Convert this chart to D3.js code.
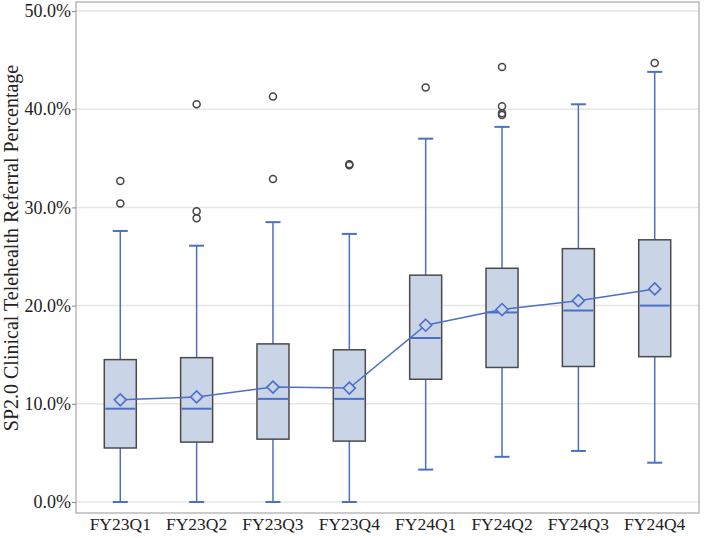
<!DOCTYPE html>
<html>
<head>
<meta charset="utf-8">
<script src="https://cdn.jsdelivr.net/npm/d3@7"></script>
<style>
  body { margin: 0; background: #fff; }
  svg text { font-family: "Liberation Serif", "Times New Roman", serif; fill: #222; }
</style>
</head>
<body>
<div id="chart"></div>
<script>
// quarters and box statistics (percent)
const quarters = ["FY23Q1", "FY23Q2", "FY23Q3", "FY23Q4", "FY24Q1", "FY24Q2", "FY24Q3", "FY24Q4"];
const whiskerLow  = [0, 0, 0, 0, 3.3, 4.6, 5.2, 4.0];
const q1Values    = [5.5, 6.1, 6.4, 6.2, 12.5, 13.7, 13.8, 14.8];
const medians     = [9.5, 9.5, 10.5, 10.5, 16.7, 19.3, 19.5, 20.0];
const q3Values    = [14.5, 14.7, 16.1, 15.5, 23.1, 23.8, 25.8, 26.7];
const whiskerHigh = [27.6, 26.1, 28.5, 27.3, 37.0, 38.2, 40.5, 43.8];
const means       = [10.4, 10.7, 11.7, 11.6, 18.0, 19.6, 20.5, 21.7];
const outliers    = [
    [32.7, 30.4],
    [40.5, 29.6, 28.9],
    [41.3, 32.9],
    [34.3, 34.4],
    [42.2],
    [44.3, 40.3, 39.6, 39.4],
    [],
    [44.7]
];
const yTicks = [0, 10, 20, 30, 40, 50];

const W = 704, H = 538;
const plot = {left: 76, right: 699, top: 2, bottom: 513};

const svg = d3.select("#chart").append("svg")
    .attr("width", W).attr("height", H);

const x = d3.scalePoint().domain(quarters).range([plot.left, plot.right]).padding(0.58);
const y = d3.scaleLinear().domain([0, 50]).range([502, 11]);

const blue = "#4a70c8";
const boxW = 32, capW = 15;

// gridlines
svg.append("g").selectAll("line")
    .data(yTicks)
    .join("line")
    .attr("x1", plot.left).attr("x2", plot.right)
    .attr("y1", d => y(d)).attr("y2", d => y(d))
    .attr("stroke", "#e6e6e6").attr("stroke-width", 1.5);

// frame
svg.append("rect")
    .attr("x", plot.left).attr("y", plot.top)
    .attr("width", plot.right - plot.left).attr("height", plot.bottom - plot.top)
    .attr("fill", "none").attr("stroke", "#a8a8a8").attr("stroke-width", 1.2);

// y axis
const yAxis = svg.append("g")
    .attr("transform", `translate(${plot.left},0)`)
    .call(d3.axisLeft(y).tickValues(yTicks).tickSize(4).tickFormat(d => d.toFixed(1) + "%"));
yAxis.select(".domain").remove();
yAxis.selectAll(".tick line").attr("stroke", "#888");
yAxis.selectAll(".tick text").attr("x", -5).style("font-size", "18px").attr("fill", "#222");

// x labels
svg.append("g").selectAll("text")
    .data(quarters)
    .join("text")
    .attr("x", d => x(d))
    .attr("y", 530)
    .attr("text-anchor", "middle")
    .style("font-size", "17.5px")
    .text(d => d);

// y title
svg.append("text")
    .attr("transform", "translate(18,248) rotate(-90)")
    .attr("text-anchor", "middle")
    .style("font-size", "20px")
    .text("SP2.0 Clinical Telehealth Referral Percentage");

const boxes = svg.append("g");
quarters.forEach((q, i) => {
    const cx = x(q);
    const g = boxes.append("g");
    // whiskers
    g.append("line")
        .attr("x1", cx).attr("x2", cx)
        .attr("y1", y(whiskerHigh[i])).attr("y2", y(q3Values[i]))
        .attr("stroke", blue).attr("stroke-width", 1.5);
    g.append("line")
        .attr("x1", cx).attr("x2", cx)
        .attr("y1", y(q1Values[i])).attr("y2", y(whiskerLow[i]))
        .attr("stroke", blue).attr("stroke-width", 1.5);
    [whiskerHigh[i], whiskerLow[i]].forEach(v => {
        g.append("line")
            .attr("x1", cx - capW / 2).attr("x2", cx + capW / 2)
            .attr("y1", y(v)).attr("y2", y(v))
            .attr("stroke", blue).attr("stroke-width", 2);
    });
    // box
    g.append("rect")
        .attr("x", cx - boxW / 2).attr("y", y(q3Values[i]))
        .attr("width", boxW).attr("height", y(q1Values[i]) - y(q3Values[i]))
        .attr("fill", "#c9d5e6").attr("stroke", "#4a4a4a").attr("stroke-width", 1.5);
    // median
    g.append("line")
        .attr("x1", cx - boxW / 2 + 1).attr("x2", cx + boxW / 2 - 1)
        .attr("y1", y(medians[i])).attr("y2", y(medians[i]))
        .attr("stroke", blue).attr("stroke-width", 2);
    // outliers
    g.selectAll("circle")
        .data(outliers[i])
        .join("circle")
        .attr("cx", cx).attr("cy", d => y(d))
        .attr("r", 3.5)
        .attr("fill", "none").attr("stroke", "#444").attr("stroke-width", 1.5);
});

// mean line
const meanLine = d3.line().x((d, i) => x(quarters[i])).y(d => y(d));
svg.append("path")
    .datum(means)
    .attr("d", meanLine)
    .attr("fill", "none").attr("stroke", blue).attr("stroke-width", 1.5);

svg.append("g").selectAll("path")
    .data(means)
    .join("path")
    .attr("transform", (d, i) => `translate(${x(quarters[i])},${y(d)})`)
    .attr("d", "M0,-6L6,0L0,6L-6,0Z")
    .attr("fill", "#c9d5e6").attr("stroke", blue).attr("stroke-width", 1.6);
</script>
</body>
</html>
